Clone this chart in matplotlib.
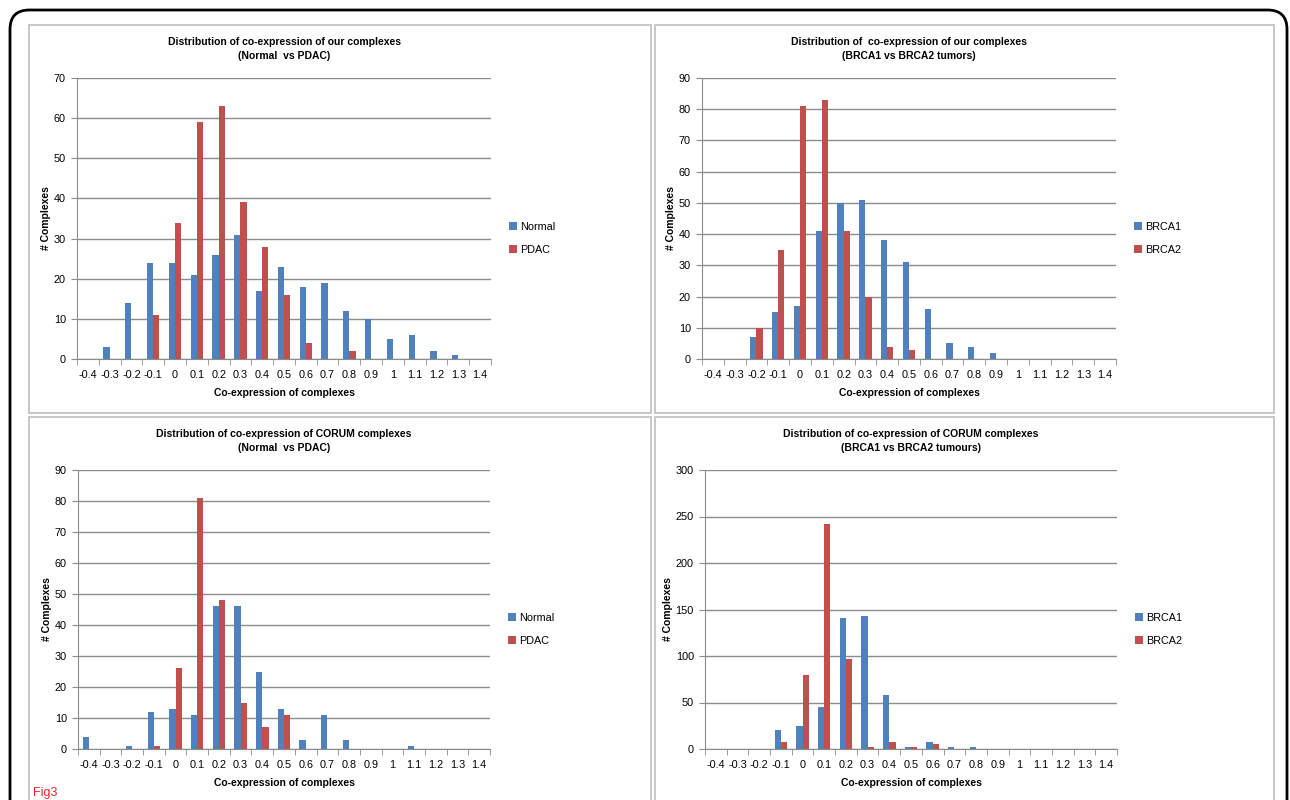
import numpy as np
import matplotlib
matplotlib.use('Agg')
import matplotlib.pyplot as plt
from matplotlib.patches import FancyBboxPatch, Rectangle

plt.rcParams['font.family'] = ['Liberation Sans Narrow', 'Liberation Sans', 'DejaVu Sans']

W, H = 1290, 800

categories = ['-0.4', '-0.3', '-0.2', '-0.1', '0', '0.1', '0.2', '0.3', '0.4', '0.5',
              '0.6', '0.7', '0.8', '0.9', '1', '1.1', '1.2', '1.3', '1.4']

# our complexes, Normal vs PDAC
ours_normal = [0, 3, 14, 24, 24, 21, 26, 31, 17, 23, 18, 19, 12, 10, 5, 6, 2, 1, 0]
ours_pdac = [0, 0, 0, 11, 34, 59, 63, 39, 28, 16, 4, 0, 2, 0, 0, 0, 0, 0, 0]

# our complexes, BRCA1 vs BRCA2
ours_brca1 = [0, 0, 7, 15, 17, 41, 50, 51, 38, 31, 16, 5, 4, 2, 0, 0, 0, 0, 0]
ours_brca2 = [0, 0, 10, 35, 81, 83, 41, 20, 4, 3, 0, 0, 0, 0, 0, 0, 0, 0, 0]

# CORUM complexes, Normal vs PDAC
corum_normal = [4, 0, 1, 12, 13, 11, 46, 46, 25, 13, 3, 11, 3, 0, 0, 1, 0, 0, 0]
corum_pdac = [0, 0, 0, 1, 26, 81, 48, 15, 7, 11, 0, 0, 0, 0, 0, 0, 0, 0, 0]

# CORUM complexes, BRCA1 vs BRCA2
corum_brca1 = [0, 0, 0, 20, 25, 45, 141, 143, 58, 2, 8, 2, 2, 0, 0, 0, 0, 0, 0]
corum_brca2 = [0, 0, 0, 8, 80, 242, 97, 2, 8, 2, 5, 0, 0, 0, 0, 0, 0, 0, 0]

BLUE = '#4F81BD'
RED = '#C0504D'
GRID = '#8C8C8C'


def fig_rect(x0, y0, x1, y1):
    return [x0 / W, 1 - y1 / H, (x1 - x0) / W, (y1 - y0) / H]


def panel(rect, s1, s2, names, title, ymax, ystep):
    ax = fig.add_axes(rect)
    x = np.arange(len(categories))
    bw = 1 / 3.5
    ax.bar(x - bw / 2, s1, bw, color=BLUE, label=names[0], zorder=3)
    ax.bar(x + bw / 2, s2, bw, color=RED, label=names[1], zorder=3)
    ax.set_xlim(-0.5, len(categories) - 0.5)
    ax.set_ylim(0, ymax)
    ax.set_yticks(np.arange(0, ymax + 1, ystep))
    ax.set_xticks(x)
    ax.set_xticklabels(categories)
    ax.set_xticks(np.arange(-0.5, len(categories), 1), minor=True)
    ax.tick_params(axis='x', which='major', length=0, labelsize=7.8, pad=8)
    ax.tick_params(axis='x', which='minor', length=4, color=GRID, direction='out')
    ax.tick_params(axis='y', length=4, color=GRID, labelsize=7.8, pad=4)
    ax.grid(axis='y', color=GRID, linewidth=1, zorder=0)
    for s in ['top', 'right']:
        ax.spines[s].set_visible(False)
    for s in ['left', 'bottom']:
        ax.spines[s].set_color(GRID)
        ax.spines[s].set_zorder(4)
    ax.set_title(title, fontsize=7.5, fontweight='bold', pad=14, linespacing=1.5)
    ax.set_xlabel('Co-expression of complexes', fontsize=7.5, fontweight='bold', labelpad=6)
    ax.set_ylabel('# Complexes', fontsize=7.5, fontweight='bold', labelpad=2)
    ax.legend(loc='center left', bbox_to_anchor=(1.02, 0.43), frameon=False,
              fontsize=7.8, handlelength=0.7, handleheight=0.7, handletextpad=0.3,
              labelspacing=1.2)
    return ax


fig = plt.figure(figsize=(W / 100, H / 100), dpi=100)

# outer rounded frame
frame = FancyBboxPatch((10 / W, -0.05), (1287 - 10) / W, 1.05 - 10 / H,
                       boxstyle='round,pad=0,rounding_size=0.015',
                       mutation_aspect=W / H, transform=fig.transFigure,
                       fill=False, edgecolor='black', linewidth=2)
fig.patches.append(frame)

# panel boxes
for (x0, y0, x1, y1) in [(29, 25, 651, 413), (655, 25, 1274, 413),
                         (29, 417, 651, 820), (655, 417, 1274, 820)]:
    fig.patches.append(Rectangle((x0 / W, 1 - y1 / H), (x1 - x0) / W, (y1 - y0) / H,
                                 transform=fig.transFigure, fill=False,
                                 edgecolor='#BFBFBF', linewidth=1.2))

panel(fig_rect(77, 78, 491, 359), ours_normal, ours_pdac, ['Normal', 'PDAC'],
      'Distribution of co-expression of our complexes\n(Normal  vs PDAC)', 70, 10)
panel(fig_rect(702, 78, 1116, 359), ours_brca1, ours_brca2, ['BRCA1', 'BRCA2'],
      'Distribution of  co-expression of our complexes\n(BRCA1 vs BRCA2 tumors)', 90, 10)
panel(fig_rect(78, 470, 490, 749), corum_normal, corum_pdac, ['Normal', 'PDAC'],
      'Distribution of co-expression of CORUM complexes\n(Normal  vs PDAC)', 90, 10)
panel(fig_rect(705, 470, 1117, 749), corum_brca1, corum_brca2, ['BRCA1', 'BRCA2'],
      'Distribution of co-expression of CORUM complexes\n(BRCA1 vs BRCA2 tumours)', 300, 50)

fig.text(33 / W, 1 - 793 / H, 'Fig3', color='#E8262A', fontsize=9, va='center')

fig.savefig('out.png', dpi=100)
